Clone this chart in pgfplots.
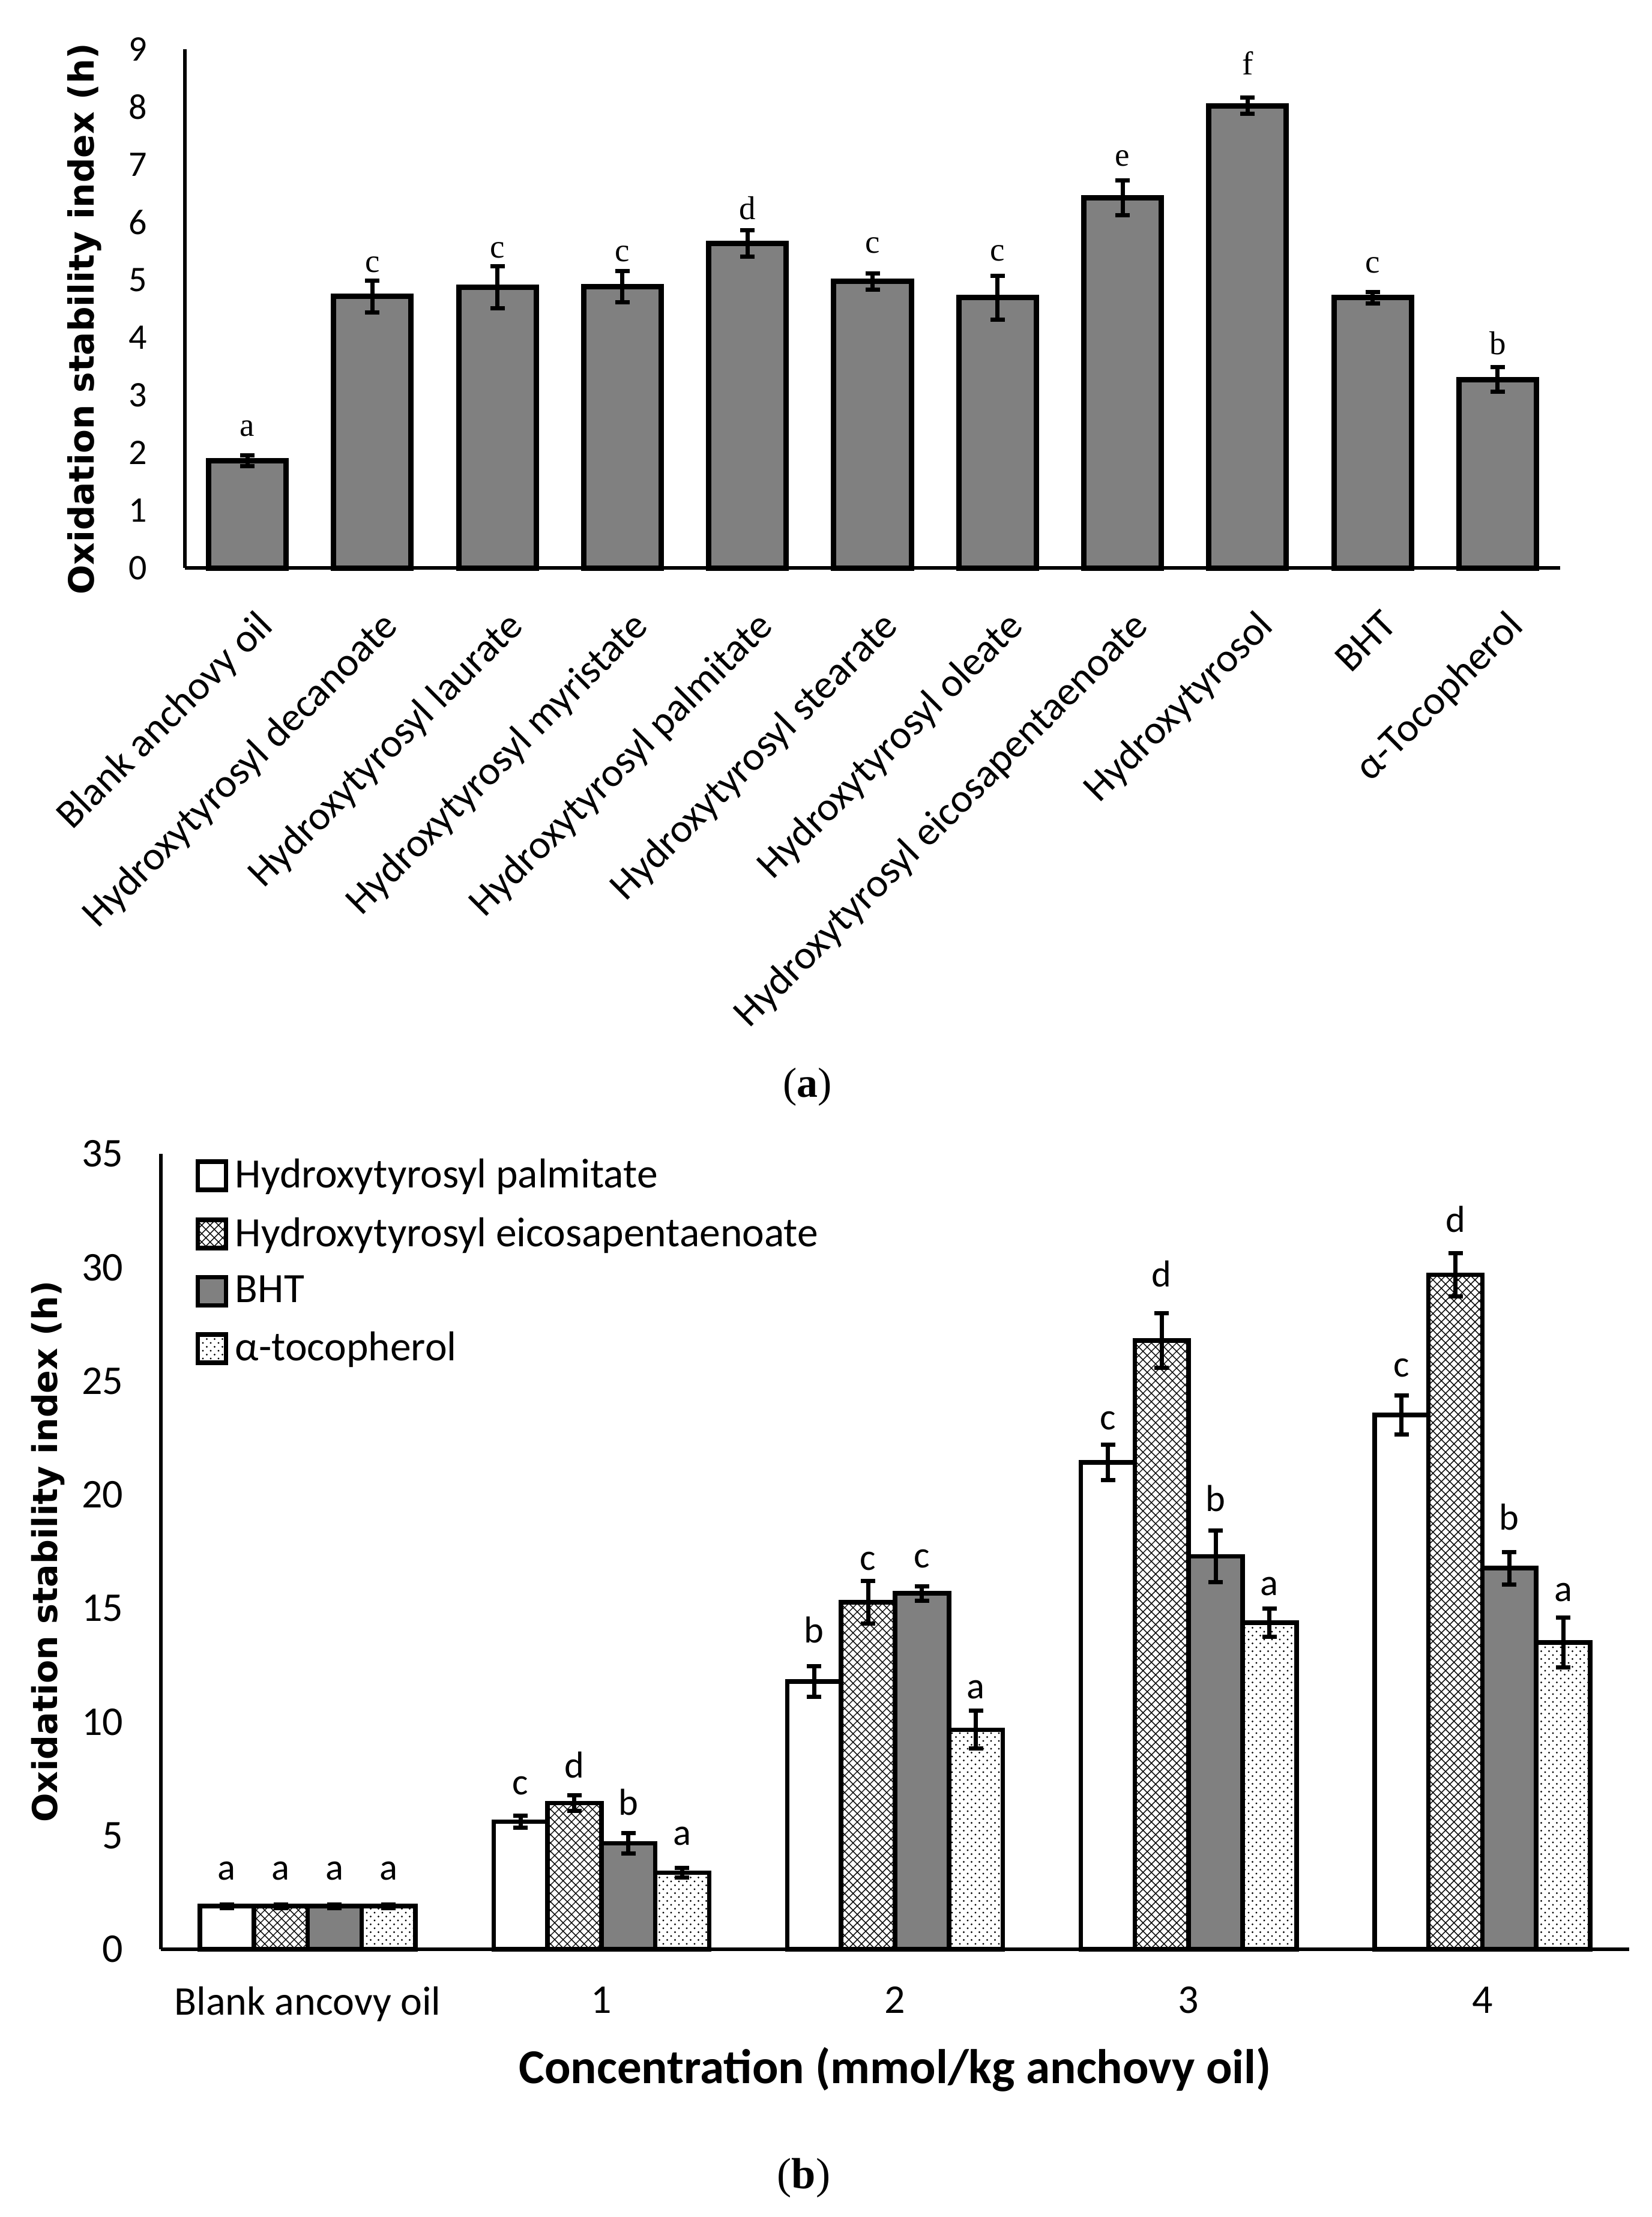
\documentclass[border=0pt]{standalone}
\usepackage{fontspec}
\setmainfont{Carlito}
\newfontfamily\dejavu{DejaVu Sans}
\newfontfamily\tnr{Liberation Serif}
\usepackage{pgfplots}
\usepackage{pgfplotstable}
\pgfplotsset{compat=1.18}
\usetikzlibrary{patterns}

% diagonal cross hatch and staggered dots, as in the Excel fills
\pgfdeclarepatternformonly{xhatch}{\pgfqpoint{-0.5pt}{-0.5pt}}{\pgfqpoint{3.3pt}{3.3pt}}{\pgfqpoint{2.8pt}{2.8pt}}{%
  \pgfsetlinewidth{0.28pt}%
  \pgfpathmoveto{\pgfqpoint{0pt}{0pt}}\pgfpathlineto{\pgfqpoint{2.8pt}{2.8pt}}%
  \pgfpathmoveto{\pgfqpoint{0pt}{2.8pt}}\pgfpathlineto{\pgfqpoint{2.8pt}{0pt}}%
  \pgfusepath{stroke}}
\pgfdeclarepatternformonly{sdots}{\pgfqpoint{-0.5pt}{-0.5pt}}{\pgfqpoint{3.1pt}{3.1pt}}{\pgfqpoint{2.6pt}{2.6pt}}{%
  \pgfpathcircle{\pgfqpoint{0pt}{0pt}}{0.32pt}%
  \pgfpathcircle{\pgfqpoint{1.3pt}{1.3pt}}{0.32pt}%
  \pgfusepath{fill}}

\definecolor{barg}{RGB}{128,128,128}

% (a) single antioxidants
\pgfplotstableread{
x y err lab ly
0 1.86 0.09 a 2.23
1 4.71 0.28 c 5.08
2 4.87 0.36 c 5.33
3 4.88 0.27 c 5.27
4 5.63 0.23 d 5.99
5 4.97 0.14 c 5.41
6 4.69 0.38 c 5.28
7 6.42 0.30 e 6.92
8 8.02 0.14 f 8.51
9 4.69 0.10 c 5.07
10 3.27 0.21 b 3.65
}\taba

% (b) concentration series
\pgfplotstableread{
x y err lab ly
0 1.90 0.08 a 2.93
1 5.62 0.26 c 6.68
2 11.78 0.67 b 13.37
3 21.42 0.77 c 22.76
4 23.51 0.86 c 25.09
}\palm
\pgfplotstableread{
x y err lab ly
0 1.90 0.08 a 2.93
1 6.43 0.35 d 7.44
2 15.27 0.94 c 16.58
3 26.78 1.20 d 29.05
4 29.68 0.95 d 31.45
}\epa
\pgfplotstableread{
x y err lab ly
0 1.90 0.08 a 2.93
1 4.66 0.45 b 5.79
2 15.66 0.32 c 16.67
3 17.29 1.14 b 19.15
4 16.77 0.71 b 18.33
}\bht
\pgfplotstableread{
x y err lab ly
0 1.90 0.08 a 2.93
1 3.37 0.20 a 4.46
2 9.66 0.83 a 10.93
3 14.37 0.61 a 15.45
4 13.50 1.10 a 15.19
}\toco

\pgfplotsset{
  errs/.style={/pgfplots/error bars/y dir=both, /pgfplots/error bars/y explicit,
    /pgfplots/error bars/error bar style={line width=1.4pt, black},
    /pgfplots/error bars/error mark options={rotate=90, mark size=2.4pt, line width=1.4pt, black}},
  legbox/.style={legend image code/.code={\draw[##1] (0pt,-4.7pt) rectangle (9.4pt,4.7pt);}},
}

\begin{document}
\begin{tikzpicture}
\path[use as bounding box] (0,0) rectangle (550.4pt,-738.6pt);

\begin{axis}[
  at={(61.6pt,-189.2pt)}, anchor=south west,
  scale only axis, width=458.2pt, height=172.8pt,
  xmin=-0.5, xmax=10.5, ymin=0, ymax=9,
  axis x line=bottom, axis y line=left,
  axis line style={-, line width=1.3pt},
  major tick length=0pt,
  clip=false,
  ytick={0,...,9},
  xtick={0,...,10},
  xticklabels={Blank anchovy oil, Hydroxytyrosyl decanoate, Hydroxytyrosyl laurate,
    Hydroxytyrosyl myristate, Hydroxytyrosyl palmitate, Hydroxytyrosyl stearate,
    Hydroxytyrosyl oleate, Hydroxytyrosyl eicosapentaenoate, Hydroxytyrosol, BHT, α-Tocopherol},
  /pgf/number format/assume math mode=true,
  yticklabel style={font=\fontsize{12}{14}\selectfont, xshift=-9pt},
  xticklabel style={font=\fontsize{13.5}{16}\selectfont, rotate=45, anchor=north east, inner sep=1pt, xshift=-6.6pt, yshift=-10pt},
  ylabel={\dejavu\bfseries Oxidation stability index (h)},
  ylabel style={at={(axis description cs:-0.073,0.48)}, anchor=center, font=\fontsize{11.6}{13}\selectfont},
]
\addplot[ybar, bar width=0.62, fill=barg, draw=black, line width=1.8pt,
  nodes near coords, point meta=explicit symbolic,
  visualization depends on={\thisrow{ly}-\thisrow{y} \as \dly},
  every node near coord/.append style={text=black, anchor=south, inner sep=0pt,
    font=\tnr\fontsize{11}{13}\selectfont, yshift=\dly*19.2pt},
  errs] table[x=x, y=y, y error=err, meta=lab] {\taba};
\end{axis}

\node[font=\tnr\fontsize{14}{16}\selectfont] at (269pt,-362.2pt) {(\textbf{a})};

\begin{axis}[
  at={(53.6pt,-649.4pt)}, anchor=south west,
  scale only axis, width=489.2pt, height=265pt,
  xmin=-0.5, xmax=4.5, ymin=0, ymax=35,
  ybar=0pt, bar width=0.1835,
  axis x line=bottom, axis y line=left,
  axis line style={-, line width=1.3pt},
  major tick length=0pt,
  clip=false,
  ytick={0,5,...,35},
  xtick={0,...,4},
  xticklabels={Blank ancovy oil,1,2,3,4},
  /pgf/number format/assume math mode=true,
  tick label style={font=\fontsize{13.6}{16}\selectfont},
  yticklabel style={xshift=-9pt},
  xticklabel style={yshift=-9pt},
  ylabel={\dejavu\bfseries Oxidation stability index (h)},
  ylabel style={at={(axis description cs:-0.077,0.5)}, anchor=center, font=\fontsize{11.4}{13}\selectfont},
  xlabel={\bfseries Concentration (mmol/kg anchovy oil)},
  xlabel style={at={(axis description cs:0.5,-0.151)}, anchor=center, font=\fontsize{16.2}{19}\selectfont},
  legend style={at={(axis description cs:0.0233,1.0)}, anchor=north west, draw=none, fill=none,
    inner sep=0pt, row sep=5.3pt, column sep=0.8pt, font=\fontsize{13.9}{16}\selectfont,
    nodes={inner sep=1.5pt}},
  legend cell align=left,
  every axis plot/.append style={draw=black, line width=1.5pt,
    nodes near coords, point meta=explicit symbolic,
    visualization depends on={\thisrow{ly}-\thisrow{y} \as \dly},
    every node near coord/.append style={text=black, anchor=south, inner sep=0pt,
      font=\fontsize{12.5}{14}\selectfont, yshift=\dly*7.5714pt},
    legbox, errs},
]
\addplot[fill=white] table[x=x, y=y, y error=err, meta=lab] {\palm};
\addplot[pattern=xhatch] table[x=x, y=y, y error=err, meta=lab] {\epa};
\addplot[fill=barg] table[x=x, y=y, y error=err, meta=lab] {\bht};
\addplot[pattern=sdots] table[x=x, y=y, y error=err, meta=lab] {\toco};
\legend{Hydroxytyrosyl palmitate, Hydroxytyrosyl eicosapentaenoate, BHT, α-tocopherol}
\end{axis}

\node[font=\tnr\fontsize{14.5}{16}\selectfont] at (267.8pt,-725.6pt) {(\textbf{b})};
\end{tikzpicture}
\end{document}
